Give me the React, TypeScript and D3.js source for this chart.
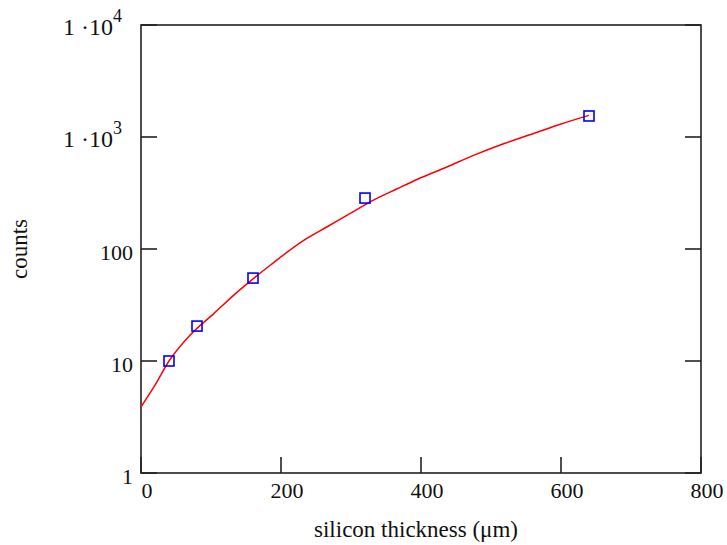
import React from "react";
import * as d3 from "d3";

const pointX = [40, 80, 160, 320, 640];
const pointY = [10, 20.5, 55, 285, 1540];

const curveX = [0, 20, 40, 70, 104, 135, 185, 233, 266, 299, 328, 366, 395, 437, 475, 518, 561, 599, 640];
const curveY = [3.9, 6.1, 10.0, 17, 26.5, 40, 72, 120, 158, 208, 265, 345, 420, 540, 685, 870, 1075, 1300, 1560];

const xTicks = [0, 200, 400, 600, 800];
const yTicks = [1, 10, 100, 1000, 10000];

export default function App() {
  const W = 727, H = 545;
  const x = d3.scaleLinear().domain([0, 800]).range([141, 701]);
  const y = d3.scaleLog().domain([1, 10000]).range([473, 25]);
  const line = d3
    .line<number>()
    .x((d, i) => x(curveX[i]))
    .y((d) => y(d))
    .curve(d3.curveMonotoneX);
  const font = "'Liberation Serif', 'Times New Roman', serif";
  const axisColor = "#222";
  const tl = 16;
  return (
    <svg width={W} height={H} style={{ position: "absolute", left: 0, top: 0, background: "#fff" }}>
      <rect x={0} y={0} width={W} height={H} fill="#fff" />
      <rect x={x(0)} y={y(10000)} width={x(800) - x(0)} height={y(1) - y(10000)} fill="none" stroke={axisColor} strokeWidth={1.6} />
      {yTicks.map((t) => (
        <g key={"y" + t}>
          <line x1={x(0)} x2={x(0) + tl} y1={y(t)} y2={y(t)} stroke={axisColor} strokeWidth={1.6} />
          <line x1={x(800) - tl} x2={x(800)} y1={y(t)} y2={y(t)} stroke={axisColor} strokeWidth={1.6} />
        </g>
      ))}
      {xTicks.map((t) => (
        <line key={"x" + t} x1={x(t)} x2={x(t)} y1={y(1)} y2={y(1) - tl} stroke={axisColor} strokeWidth={1.6} />
      ))}
      {xTicks.map((t) => (
        <text key={"xl" + t} x={x(t) + 6} y={498} textAnchor="middle" fontFamily={font} fontSize={22} fill="#111">
          {t}
        </text>
      ))}
      {yTicks.map((t) => {
        const exp = Math.round(Math.log10(t));
        if (exp >= 3) {
          return (
            <text key={"yl" + t} x={63} y={y(t) + 10} fontFamily={font} fontSize={24} fill="#111">
              1 ·10
              <tspan dy={-13} fontSize={18}>{exp}</tspan>
            </text>
          );
        }
        return (
          <text key={"yl" + t} x={133} y={y(t) + 11} textAnchor="end" fontFamily={font} fontSize={22} fill="#111">
            {t}
          </text>
        );
      })}
      <path d={line(curveY) || ""} fill="none" stroke="#ff0000" strokeWidth={1.5} />
      {pointX.map((px, i) => (
        <rect key={"p" + i} x={x(px) - 5} y={y(pointY[i]) - 5} width={10} height={10} fill="none" stroke="#0000ff" strokeWidth={1.6} />
      ))}
      <text x={416} y={537} textAnchor="middle" fontFamily={font} fontSize={23} fill="#111">
        silicon thickness (μm)
      </text>
      <text transform={`translate(27,249) rotate(-90)`} textAnchor="middle" fontFamily={font} fontSize={23} fill="#111">
        counts
      </text>
    </svg>
  );
}
